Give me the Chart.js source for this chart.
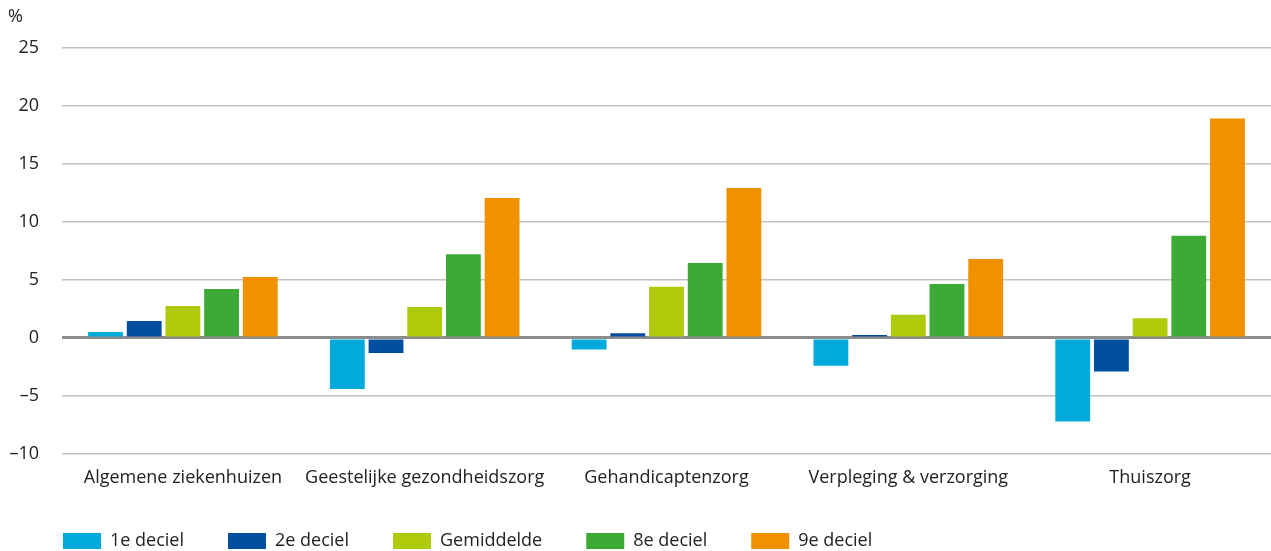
<!DOCTYPE html>
<html lang="nl">
<head>
    <meta charset="UTF-8">
    <title>Deciel vergelijking</title>
    <style>
        html, body { margin: 0; padding: 0; background: #fff; }
        .chart-container { width: 1271px; height: 551px; }
    </style>
</head>
<body>
    <div class="chart-container">
        <canvas id="chart"></canvas>
    </div>

    <script src="https://cdn.jsdelivr.net/npm/chart.js"></script>
    <script>
        const categories = ['Algemene ziekenhuizen', 'Geestelijke gezondheidszorg', 'Gehandicaptenzorg', 'Verpleging & verzorging', 'Thuiszorg'];
        const deciel1 = [0.5, -4.4, -1.0, -2.4, -7.2];
        const deciel2 = [1.45, -1.3, 0.4, 0.25, -2.9];
        const gemiddelde = [2.75, 2.65, 4.4, 2.0, 1.7];
        const deciel8 = [4.2, 7.2, 6.45, 4.65, 8.8];
        const deciel9 = [5.25, 12.05, 12.9, 6.8, 18.9];
        const seriesNames = ['1e deciel', '2e deciel', 'Gemiddelde', '8e deciel', '9e deciel'];
        const colors = ['#00abdb', '#004f9e', '#afca0b', '#3caa35', '#f19100'];

        const textColor = '#222222';
        const font = { family: 'Open Sans', size: 18, weight: 'normal' };

        const seriesData = [deciel1, deciel2, gemiddelde, deciel8, deciel9];

        // legend moet op dezelfde hoogte als de plotlinkerkant beginnen
        const legendShift = {
            id: 'legendShift',
            afterLayout(chart) {
                chart.legend.left += 11;
            }
        };

        new Chart(document.getElementById('chart'), {
            type: 'bar',
            data: {
                labels: categories,
                datasets: seriesData.map((d, i) => ({
                    label: seriesNames[i],
                    data: d,
                    backgroundColor: colors[i],
                    categoryPercentage: 0.8,
                    barPercentage: 0.9
                }))
            },
            options: {
                responsive: true,
                maintainAspectRatio: false,
                animation: false,
                layout: { padding: { left: 8, right: 0, top: 0, bottom: -9 } },
                plugins: {
                    title: {
                        display: true,
                        text: '%',
                        align: 'start',
                        color: textColor,
                        font: font,
                        padding: { top: 6, bottom: 20 }
                    },
                    legend: {
                        position: 'bottom',
                        align: 'start',
                        labels: {
                            boxWidth: 38,
                            boxHeight: 16,
                            padding: 44,
                            color: textColor,
                            font: font
                        }
                    },
                    tooltip: { enabled: false }
                },
                scales: {
                    x: {
                        grid: { display: false, drawTicks: false },
                        border: { display: false },
                        ticks: { color: textColor, font: font, padding: 13, maxRotation: 0, autoSkip: false },
                        afterFit: scale => { scale.height = 34; }
                    },
                    y: {
                        min: -10,
                        max: 25,
                        border: { display: false },
                        grid: {
                            drawTicks: false,
                            color: ctx => ctx.tick && ctx.tick.value === 0 ? '#8c8c8c' : '#c2c2c2',
                            lineWidth: ctx => ctx.tick && ctx.tick.value === 0 ? 3 : 1.5
                        },
                        ticks: {
                            stepSize: 5,
                            color: textColor,
                            font: font,
                            padding: 23,
                            callback: v => String(v).replace('-', '\u2013')
                        },
                        afterFit: scale => { scale.width = 54; }
                    }
                }
            },
            plugins: [legendShift]
        });
    </script>
</body>
</html>
